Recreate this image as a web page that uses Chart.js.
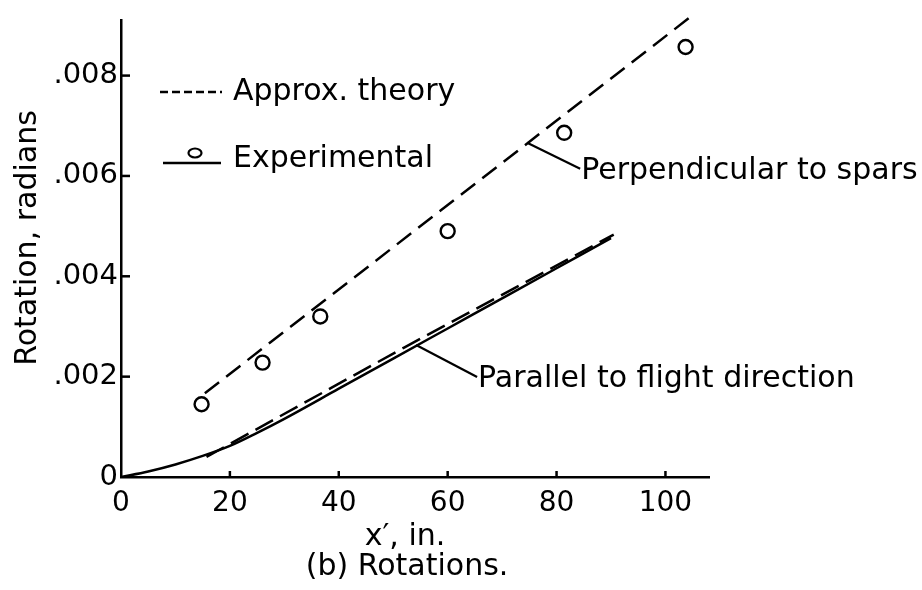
<!DOCTYPE html>
<html><head><meta charset="utf-8">
<script src="https://cdn.jsdelivr.net/npm/chart.js@4.4.1/dist/chart.umd.min.js"></script>
<style>html,body{margin:0;padding:0;background:#fff;}#wrap{width:922px;height:590px;}</style>
</head><body><div id="wrap"><canvas id="c" width="922" height="590"></canvas></div>
<script>
// ---- data ----
const xTicks = [0, 20, 40, 60, 80, 100];
const yTicks = [0, 0.002, 0.004, 0.006, 0.008];
const yTickLabels = ['0', '.002', '.004', '.006', '.008'];
const perpExpX = [14.8, 26.0, 36.6, 60.0, 81.4, 103.7];
const perpExpY = [0.00145, 0.00228, 0.0032, 0.0049, 0.00686, 0.00857];
const perpTheoryX = [15.4, 104.6];
const perpTheoryY = [0.00167, 0.00917];
const parTheoryX = [15.7, 52, 90.5];
const parTheoryY = [0.0004, 0.00258, 0.00483];
const parExpX = [0, 5, 10, 15, 20, 25, 30, 40, 50, 60, 70, 80, 90];
const parExpY = [0, 0.00011, 0.00025, 0.00042, 0.00062, 0.00088, 0.00116, 0.00176, 0.00236, 0.00296, 0.00356, 0.00416, 0.00476];
const annotText = ['Perpendicular to spars', 'Parallel to flight direction'];
const annotX = [74.6, 54.2];
const annotY = [0.00666, 0.00263];

const FONT = 'DejaVu Sans';
const pts = (xs, ys) => xs.map((x, i) => ({x: x, y: ys[i]}));

const deco = {
  id: 'deco',
  afterDraw(chart) {
    const ctx = chart.ctx, xs = chart.scales.x, ys = chart.scales.y;
    ctx.save();
    ctx.strokeStyle = '#000'; ctx.fillStyle = '#000'; ctx.lineWidth = 2.5;
    // inward tick marks
    xTicks.forEach(v => { if (v === 0) return; const px = xs.getPixelForValue(v);
      ctx.beginPath(); ctx.moveTo(px, ys.bottom); ctx.lineTo(px, ys.bottom - 6); ctx.stroke(); });
    yTicks.forEach(v => { if (v === 0) return; const py = ys.getPixelForValue(v);
      ctx.beginPath(); ctx.moveTo(xs.left, py); ctx.lineTo(xs.left + 9, py); ctx.stroke(); });
    // legend
    ctx.font = '30px "' + FONT + '"';
    ctx.textBaseline = 'alphabetic'; ctx.textAlign = 'left';
    ctx.setLineDash([8, 4]);
    ctx.beginPath(); ctx.moveTo(160, 92); ctx.lineTo(222, 92); ctx.stroke();
    ctx.setLineDash([]);
    ctx.fillText('Approx. theory', 233, 100);
    ctx.beginPath(); ctx.moveTo(163, 163); ctx.lineTo(221, 163); ctx.stroke();
    ctx.lineWidth = 2.2;
    ctx.beginPath(); ctx.ellipse(195, 153, 6.5, 4.5, 0, 0, Math.PI * 2); ctx.stroke();
    ctx.fillText('Experimental', 233, 167);
    // annotations
    ctx.lineWidth = 2.2;
    const offs = [[53, 26], [61, 32]];
    annotText.forEach((t, i) => {
      const px = xs.getPixelForValue(annotX[i]), py = ys.getPixelForValue(annotY[i]);
      const ex = px + offs[i][0], ey = py + offs[i][1];
      ctx.beginPath(); ctx.moveTo(px, py); ctx.lineTo(ex, ey); ctx.stroke();
      ctx.fillText(t, ex + 1, ey + 10);
    });
    // axis titles & caption
    ctx.textAlign = 'center';
    ctx.fillText("x\u2032, in.", 405, 545);
    ctx.fillText('(b) Rotations.', 407, 575);
    ctx.save();
    ctx.translate(36, 238); ctx.rotate(-Math.PI / 2);
    ctx.fillText('Rotation, radians', 0, 0);
    ctx.restore();
    ctx.restore();
  }
};

new Chart(document.getElementById('c'), {
  type: 'scatter',
  data: { datasets: [
    { label: 'Perp. theory', data: pts(perpTheoryX, perpTheoryY), showLine: true, borderColor: '#000',
      borderWidth: 2.5, borderDash: [18, 9], pointRadius: 0, fill: false, clip: false },
    { label: 'Perp. experimental', data: pts(perpExpX, perpExpY), showLine: false, borderColor: '#000',
      backgroundColor: 'rgba(0,0,0,0)', pointRadius: 7, pointBorderWidth: 2.4, pointStyle: 'circle', clip: false },
    { label: 'Parallel theory', data: pts(parTheoryX, parTheoryY), showLine: true, borderColor: '#000',
      borderWidth: 2.5, borderDash: [20, 8], pointRadius: 0, fill: false },
    { label: 'Parallel experimental', data: pts(parExpX, parExpY), showLine: true, borderColor: '#000',
      borderWidth: 2.5, pointRadius: 0, cubicInterpolationMode: 'monotone', fill: false }
  ]},
  options: {
    responsive: false, animation: false, devicePixelRatio: 1,
    layout: { padding: { left: 0, right: 213, top: 14, bottom: 0 } },
    plugins: { legend: { display: false }, tooltip: { enabled: false }, title: { display: false } },
    scales: {
      x: { type: 'linear', min: 0, max: 108,
        afterBuildTicks: s => { s.ticks = xTicks.map(v => ({value: v})); },
        afterFit: s => { s.height = 113; },
        grid: { display: false, drawTicks: false },
        border: { display: true, color: '#000', width: 2.5 },
        ticks: { color: '#000', padding: 10, font: { family: FONT, size: 28 }, maxRotation: 0, autoSkip: false,
          callback: v => String(v) } },
      y: { type: 'linear', min: 0, max: 0.0091,
        afterBuildTicks: s => { s.ticks = yTicks.map(v => ({value: v})); },
        afterFit: s => { s.width = 121; },
        grid: { display: false, drawTicks: false },
        border: { display: true, color: '#000', width: 2.5 },
        ticks: { color: '#000', padding: 3, font: { family: FONT, size: 29 }, autoSkip: false,
          callback: v => { const i = yTicks.indexOf(v); return i >= 0 ? yTickLabels[i] : ''; } } }
    }
  },
  plugins: [deco]
});
</script></body></html>
